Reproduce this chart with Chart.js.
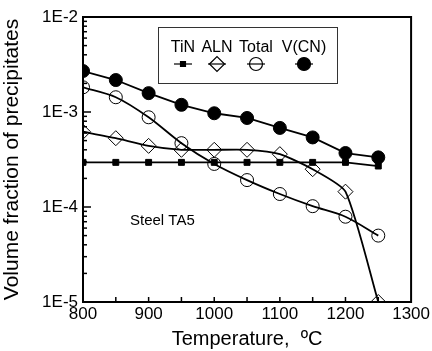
<!DOCTYPE html>
<html>
<head>
<meta charset="utf-8">
<script src="https://cdn.jsdelivr.net/npm/chart.js@4"></script>
<style>
  html, body { margin: 0; padding: 0; background: #fff; }
  #wrap { width: 432px; height: 351px; }
</style>
</head>
<body>
<div id="wrap"><canvas id="grafico"></canvas></div>
<script>
// datos
var temperaturas = [800, 850, 900, 950, 1000, 1050, 1100, 1150, 1200, 1250];
var series = ["TiN", "ALN", "Total", "V(CN)"];
var tin = [2.95e-4, 2.95e-4, 2.95e-4, 2.95e-4, 2.95e-4, 2.95e-4, 2.95e-4, 2.95e-4, 2.95e-4, 2.7e-4];
var aln = [6.2e-4, 5.3e-4, 4.4e-4, 4.0e-4, 4.0e-4, 4.0e-4, 3.6e-4, 2.5e-4, 1.45e-4, 1.0e-5];
var total = [1.82e-3, 1.43e-3, 8.8e-4, 4.7e-4, 2.84e-4, 1.92e-4, 1.37e-4, 1.02e-4, 7.9e-5, 5.0e-5];
var vcn = [2.7e-3, 2.17e-3, 1.58e-3, 1.19e-3, 9.7e-4, 8.65e-4, 6.8e-4, 5.4e-4, 3.7e-4, 3.33e-4];
var xTicks = [800, 900, 1000, 1100, 1200, 1300];
var yDecadas = [1e-5, 1e-4, 1e-3, 1e-2];
var yEtiquetas = ["1E-5", "1E-4", "1E-3", "1E-2"];

Chart.defaults.font.family = "'Liberation Sans', Arial, sans-serif";
Chart.defaults.color = "#000";

function puntos(valores) {
    return temperaturas.map(function (t, i) { return { x: t, y: valores[i] }; });
}

var estilos = {
    "TiN":   { pointStyle: 'rect', radius: 4.2, fill: '#000' },
    "ALN":   { pointStyle: 'rectRot', radius: 7.5, fill: 'rgba(0,0,0,0)' },
    "Total": { pointStyle: 'circle', radius: 6.5, fill: 'rgba(0,0,0,0)' },
    "V(CN)": { pointStyle: 'circle', radius: 6.5, fill: '#000' }
};

function crearSerie(nombre, valores, suave) {
    var e = estilos[nombre];
    return {
        label: nombre,
        data: puntos(valores),
        borderColor: '#000',
        borderWidth: 1.8,
        pointStyle: e.pointStyle,
        pointRadius: e.radius,
        pointBackgroundColor: e.fill,
        pointBorderColor: '#000',
        pointBorderWidth: 1,
        tension: suave,
        fill: false
    };
}

// marco y marcas hacia adentro
var marcoPlugin = {
    id: 'marco',
    afterDraw: function (chart) {
        var ctx = chart.ctx;
        var a = chart.chartArea;
        var xs = chart.scales.x, ys = chart.scales.y;
        ctx.save();
        ctx.strokeStyle = '#000';
        ctx.lineWidth = 1.5;
        // marcas eje y
        yDecadas.forEach(function (d, k) {
            var py = ys.getPixelForValue(d);
            ctx.beginPath(); ctx.moveTo(a.left, py); ctx.lineTo(a.left + 8, py); ctx.stroke();
            if (k < yDecadas.length - 1) {
                for (var m = 2; m <= 9; m++) {
                    var p = ys.getPixelForValue(d * m);
                    ctx.beginPath(); ctx.moveTo(a.left, p); ctx.lineTo(a.left + 4, p); ctx.stroke();
                }
            }
        });
        // marcas eje x
        for (var t = 850; t < 1300; t += 50) {
            var px = xs.getPixelForValue(t);
            ctx.beginPath(); ctx.moveTo(px, a.bottom); ctx.lineTo(px, a.bottom - 5); ctx.stroke();
        }
        ctx.lineWidth = 2;
        ctx.strokeRect(a.left, a.top, a.right - a.left, a.bottom - a.top);

        // texto dentro
        ctx.fillStyle = '#000';
        ctx.font = "15px 'Liberation Sans', Arial, sans-serif";
        ctx.textAlign = 'left';
        ctx.textBaseline = 'middle';
        ctx.fillText('Steel TA5', 130, 221);

        // leyenda
        ctx.fillStyle = '#fff';
        ctx.fillRect(158, 27, 179, 56);
        ctx.lineWidth = 1;
        ctx.strokeStyle = '#333';
        ctx.strokeRect(158.5, 27.5, 179, 56);
        var centros = [183, 217, 256, 304];
        ctx.font = "16px 'Liberation Sans', Arial, sans-serif";
        ctx.textAlign = 'center';
        chart.data.datasets.forEach(function (ds, i) {
            var cx = centros[i];
            ctx.fillStyle = '#000';
            ctx.fillText(ds.label, cx, 48);
            ctx.strokeStyle = '#000';
            ctx.lineWidth = 1.2;
            ctx.beginPath(); ctx.moveTo(cx - 9, 64); ctx.lineTo(cx + 9, 64); ctx.stroke();
            ctx.fillStyle = ds.pointBackgroundColor;
            Chart.helpers.drawPoint(ctx, {
                pointStyle: ds.pointStyle,
                radius: ds.label === 'TiN' ? 3.5 : ds.pointRadius,
                borderWidth: 1,
                rotation: 0
            }, cx, 64);
        });
        ctx.restore();
    }
};

new Chart(document.getElementById('grafico'), {
    type: 'line',
    data: {
        datasets: [
            crearSerie(series[0], tin, 0),
            crearSerie(series[1], aln, 0.2),
            crearSerie(series[2], total, 0.3),
            crearSerie(series[3], vcn, 0)
        ]
    },
    options: {
        responsive: true,
        maintainAspectRatio: false,
        animation: false,
        layout: { padding: { top: 17, right: 19, left: 0, bottom: 0 }, autoPadding: false },
        plugins: { legend: { display: false }, tooltip: { enabled: false } },
        scales: {
            x: {
                type: 'linear',
                min: 800,
                max: 1300,
                grid: { display: false, drawTicks: false },
                border: { display: false },
                afterBuildTicks: function (scale) {
                    scale.ticks = xTicks.map(function (v) { return { value: v }; });
                },
                ticks: {
                    font: { size: 17 },
                    padding: 2,
                    maxRotation: 0,
                    callback: function (v) { return String(v); }
                },
                title: { display: true, text: 'Temperature,  ºC', font: { size: 20 }, padding: { top: 0, bottom: 0 } },
                afterFit: function (scale) { scale.height = 49; }
            },
            y: {
                type: 'logarithmic',
                min: 1e-5,
                max: 1e-2,
                grid: { display: false, drawTicks: false },
                border: { display: false },
                afterBuildTicks: function (scale) {
                    scale.ticks = yDecadas.map(function (v) { return { value: v }; });
                },
                ticks: {
                    font: { size: 17 },
                    padding: 5,
                    callback: function (v) {
                        var i = yDecadas.indexOf(v);
                        return i >= 0 ? yEtiquetas[i] : '';
                    }
                },
                title: { display: true, text: 'Volume fraction of precipitates', font: { size: 21 }, padding: { top: 0, bottom: 3 } },
                afterFit: function (scale) { scale.width = 83; }
            }
        }
    },
    plugins: [marcoPlugin]
});
</script>
</body>
</html>
